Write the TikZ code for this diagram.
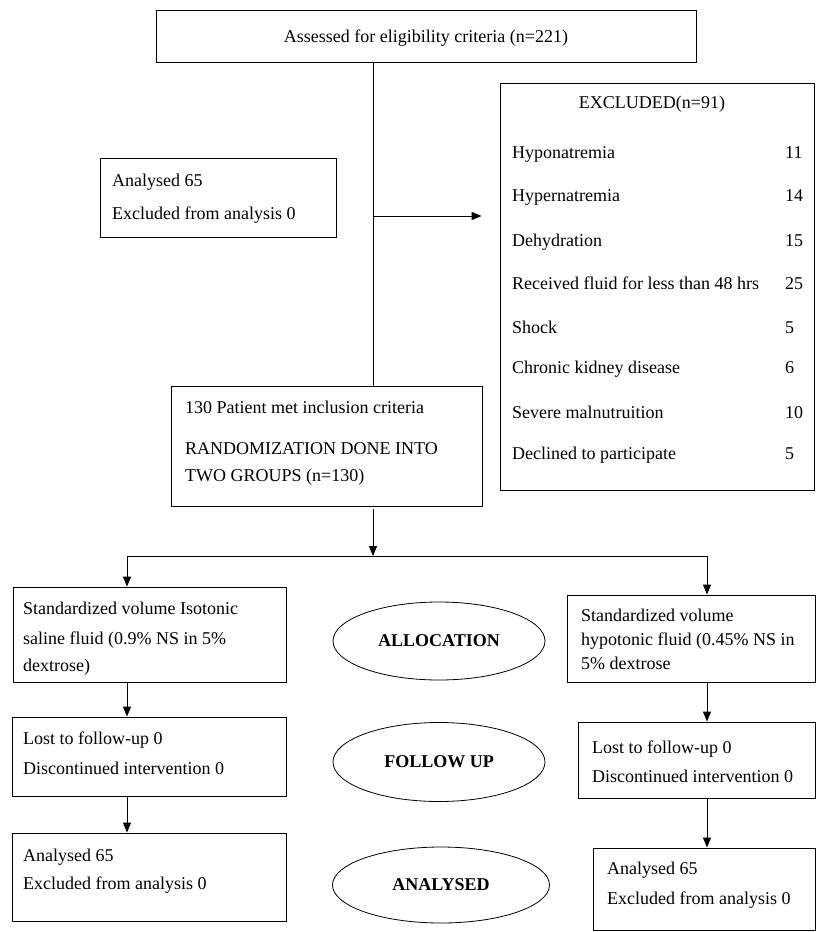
\documentclass[tikz,border=0pt]{standalone}
\usepackage{fontspec}
\setmainfont{Liberation Serif}
\usetikzlibrary{shapes.geometric,arrows.meta,shadows}
\newcommand\myfs{\fontsize{18}{22}\selectfont}
\begin{document}
\begin{tikzpicture}[x=1pt,y=-1pt,
  box/.style={draw, line width=0.9pt, fill=white, inner sep=0pt,
    drop shadow={shadow xshift=1.3pt, shadow yshift=-1.3pt, fill=black!55, opacity=1}},
  txt/.style={font=\myfs, inner sep=0pt, anchor=base west},
  oval/.style={draw, ellipse, line width=0.8pt, inner sep=0pt, font=\myfs\bfseries},
  ln/.style={line width=1pt},
  arr/.style={line width=1pt, -{Triangle[length=10pt,width=8pt]}}
]
\useasboundingbox (0,0) rectangle (817,932);

% boxes
\node[box, minimum width=540pt, minimum height=52pt] (top) at (426,36) {};
\node[box, minimum width=314pt, minimum height=407pt] (excl) at (657,286.5) {};
\node[box, minimum width=236pt, minimum height=79pt] (anl0) at (218,197.5) {};
\node[box, minimum width=311pt, minimum height=120pt] (incl) at (326.5,446) {};
\node[box, minimum width=273pt, minimum height=95pt] (L1) at (149.5,634.5) {};
\node[box, minimum width=248pt, minimum height=87pt] (R1) at (691,638.5) {};
\node[box, minimum width=274pt, minimum height=79pt] (L2) at (149,756.5) {};
\node[box, minimum width=237pt, minimum height=76pt] (R2) at (696.5,760) {};
\node[box, minimum width=274pt, minimum height=88pt] (L3) at (149,877) {};
\node[box, minimum width=222pt, minimum height=82pt] (R3) at (704,889) {};

% ellipses
\node[oval, minimum width=212pt, minimum height=78pt] (alloc) at (439,641) {ALLOCATION};
\node[oval, minimum width=212pt, minimum height=79pt] (follow) at (439,762) {FOLLOW UP};
\node[oval, minimum width=217pt, minimum height=76pt] (analysed) at (441,885) {ANALYSED};

% texts
\node[txt, anchor=base] (ttop) at (426,42) {Assessed for eligibility criteria (n=221)};
\node[txt, anchor=base] (texcl) at (652,108) {EXCLUDED(n=91)};
\foreach \t/\n/\y [count=\i] in {Hyponatremia/11/152, Hypernatremia/14/195, Dehydration/15/240,
  Received fluid for less than 48 hrs/25/283, Shock/5/327, Chronic kidney disease/6/367,
  Severe malnutruition/10/412, Declined to participate/5/453}{
  \node[txt] (ex\i) at (512,\y+6) {\t};
  \node[txt] (exn\i) at (785,\y+6) {\n};
}
\node[txt] (a0a) at (112,186) {Analysed 65};
\node[txt] (a0b) at (112,219) {Excluded from analysis 0};

\node[txt] (ia) at (185,413) {130 Patient met inclusion criteria};
\node[txt] (ib) at (185,454) {RANDOMIZATION DONE INTO};
\node[txt] (ic) at (185,481) {TWO GROUPS (n=130)};

\node[txt] (l1a) at (23,614) {Standardized volume Isotonic};
\node[txt] (l1b) at (23,644) {saline fluid (0.9\% NS in 5\%};
\node[txt] (l1c) at (23,671) {dextrose)};

\node[txt] (r1a) at (581,621) {Standardized volume};
\node[txt] (r1b) at (581,645) {hypotonic fluid (0.45\% NS in};
\node[txt] (r1c) at (581,669) {5\% dextrose};

\node[txt] (l2a) at (23,744) {Lost to follow-up 0};
\node[txt] (l2b) at (23,774) {Discontinued intervention 0};

\node[txt] (r2a) at (592,753) {Lost to follow-up 0};
\node[txt] (r2b) at (592,782) {Discontinued intervention 0};

\node[txt] (l3a) at (23,861) {Analysed 65};
\node[txt] (l3b) at (23,889) {Excluded from analysis 0};

\node[txt] (r3a) at (607,874) {Analysed 65};
\node[txt] (r3b) at (607,904) {Excluded from analysis 0};

% connectors
\coordinate (trunk) at (373,216);
\draw[ln] (top.south -| trunk) -- (incl.north -| trunk);
\draw[arr, shorten >=18pt] (trunk) -- (trunk -| excl.west);
\coordinate (split) at (373,556);
\draw[arr, shorten <=3pt] (incl.south -| trunk) -- (split);
\coordinate (lft) at (127,556);
\coordinate (rgt) at (707,556);
\draw[ln] (lft) -- (rgt);
\draw[arr] (lft) -- (lft |- L1.north);
\draw[arr] (rgt) -- (rgt |- R1.north);
\draw[arr] (L1.south -| lft) -- (L2.north -| lft);
\draw[arr] (L2.south -| lft) -- (L3.north -| lft);
\draw[arr] (R1.south -| rgt) -- (R2.north -| rgt);
\draw[arr] (R2.south -| rgt) -- (R3.north -| rgt);
\end{tikzpicture}
\end{document}
